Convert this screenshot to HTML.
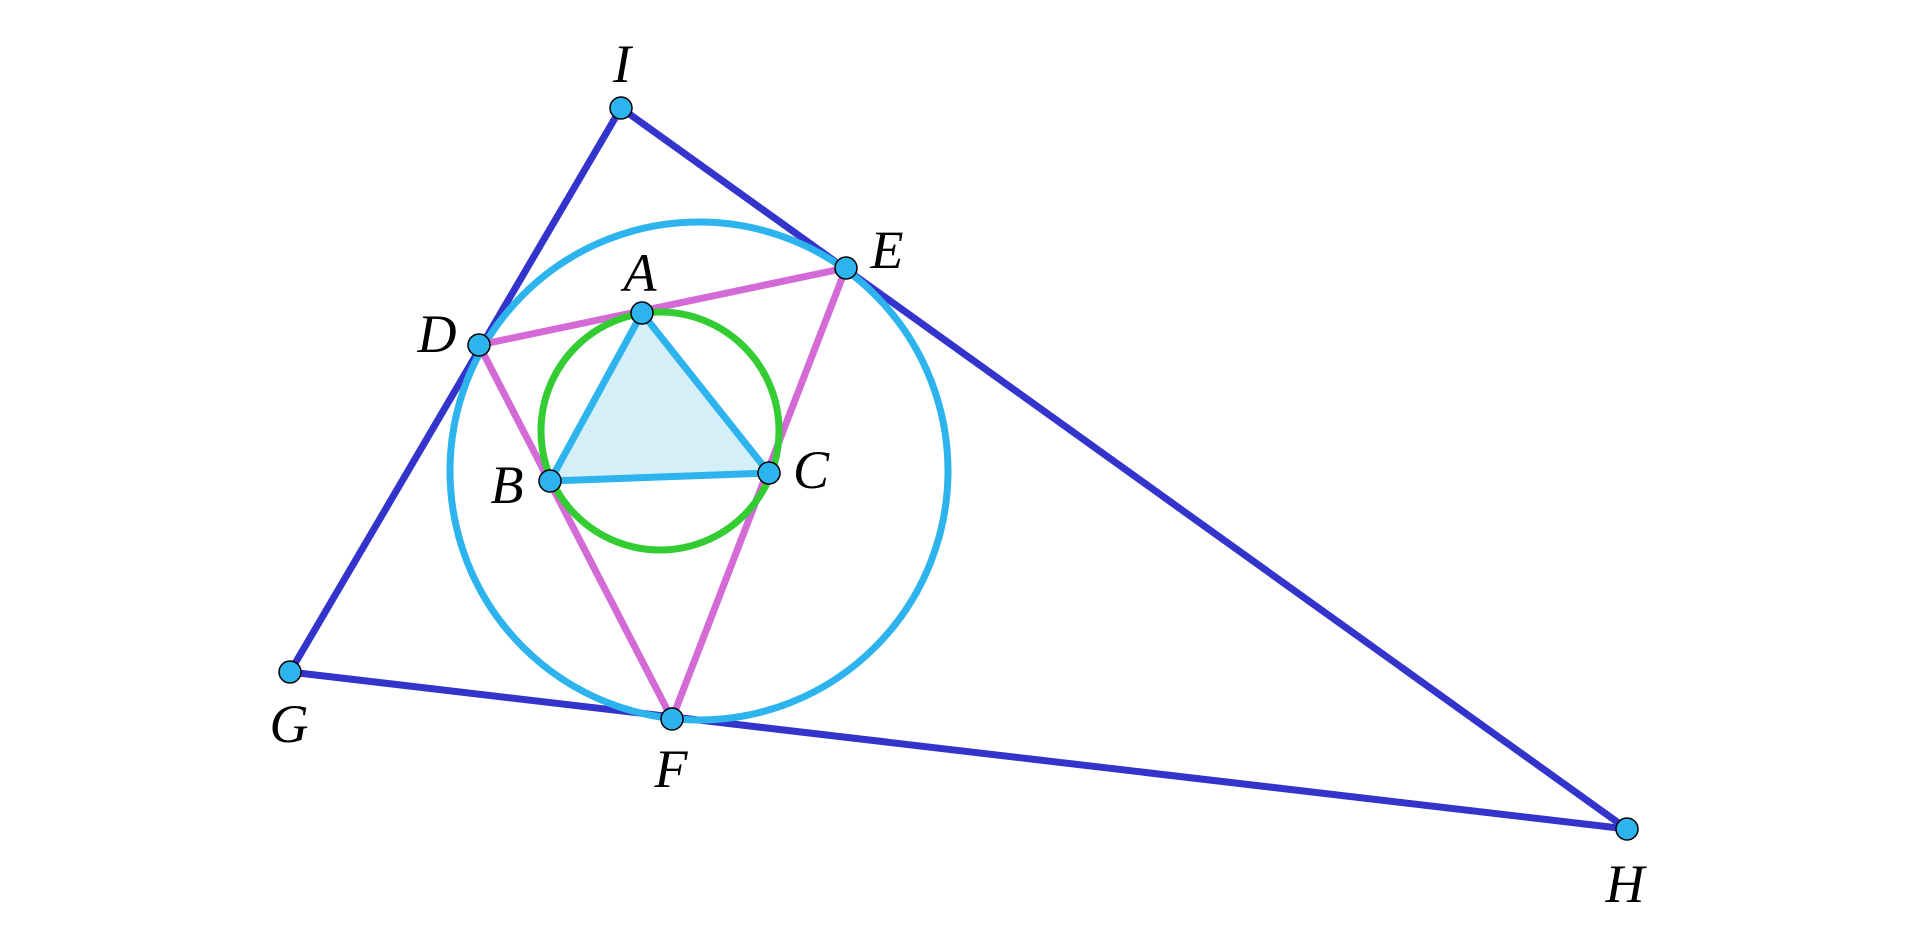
<!DOCTYPE html>
<html><head><style>html,body{margin:0;padding:0;background:#fff;width:1920px;height:944px;overflow:hidden}</style></head>
<body>
<svg width="1920" height="944" viewBox="0 0 1920 944" xmlns="http://www.w3.org/2000/svg">
<g stroke-width="7" fill="none" stroke-linecap="round">
<polygon points="642,313 550,481 769,473" fill="#d5eff9" stroke="none"/>
<polyline points="621,108 290,672 1627,829 621,108" stroke="#3434cc"/>
<circle cx="699" cy="471" r="249" stroke="#2db3ee"/>
<polyline points="479,345 846,268 672,719 479,345" stroke="#d36ad6"/>
<circle cx="660" cy="431" r="119" stroke="#33cc33"/>
<polygon points="642,313 550,481 769,473" stroke="#2db3ee"/>
</g>
<g fill="#2db3ee" stroke="#000" stroke-width="1.5">
<circle cx="621" cy="108" r="11"/><circle cx="846" cy="268" r="11"/><circle cx="479" cy="345" r="11"/>
<circle cx="642" cy="313" r="11"/><circle cx="550" cy="481" r="11"/><circle cx="769" cy="473" r="11"/>
<circle cx="290" cy="672" r="11"/><circle cx="672" cy="719" r="11"/><circle cx="1627" cy="829" r="11"/>
</g>
<g font-family="Liberation Serif, serif" font-style="italic" font-size="54" text-anchor="middle" fill="#000">
<text x="622" y="82">I</text>
<text x="887" y="268">E</text>
<text x="437" y="352">D</text>
<text x="640" y="291">A</text>
<text x="507" y="503">B</text>
<text x="811" y="488">C</text>
<text x="289" y="742">G</text>
<text x="671" y="787">F</text>
<text x="1625" y="902">H</text>
</g>
</svg>
</body></html>
